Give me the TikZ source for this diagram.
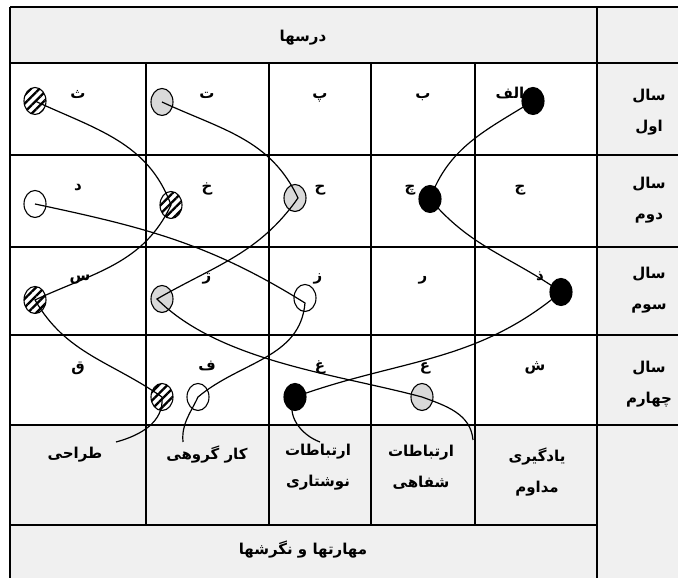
\documentclass[tikz,border=0pt]{standalone}
\usepackage{fontspec}
\usepackage{tikz}
\usetikzlibrary{shapes.geometric,patterns.meta}
\usepackage{xcolor}
\newfontfamily\arabicfont[Script=Arabic]{DejaVu Sans}
\TeXXeTstate=1
\newcommand{\fatext}[1]{{\arabicfont\bfseries\beginR #1\endR}}
\definecolor{cellgray}{HTML}{F0F0F0}
\definecolor{beadgray}{HTML}{D9D9D9}

\begin{document}
\begin{tikzpicture}[x=1pt, y=1pt, font=\fontsize{15}{31}\selectfont,
    gridline/.style={line width=1.8pt},
    link/.style={line width=1.2pt},
    bead/.style={ellipse, draw, line width=1.1pt, minimum width=22pt, minimum height=27pt, inner sep=0pt},
    hatchbead/.style={bead, pattern={Lines[angle=45,distance=6pt,line width=2.3pt]}},
    greybead/.style={bead, fill=beadgray},
    blackbead/.style={bead, fill=black},
    whitebead/.style={bead, fill=white},
    letter/.style={anchor=base}]
    \useasboundingbox (0,0) rectangle (678,578);
    \fill[cellgray] (10,0) rectangle (678,571);
    \fill[white] (10,153) rectangle (597,515);

    % table lines
    \draw[gridline] (10,571) -- (678,571);
    \draw[gridline] (10,571) -- (10,0);
    \draw[gridline] (597,571) -- (597,0);
    \foreach \y in {515,423,331,243,153}
      \draw[gridline] (10,\y) -- (678,\y);
    \draw[gridline] (10,53) -- (597,53);
    \foreach \x in {146,269,371,475}
      \draw[gridline] (\x,515) -- (\x,53);

    \node (title) at (303,540) {\fatext{درسها}};
    \node (skills) at (303,28) {\fatext{مهارتها و نگرشها}};

    \foreach \y/\yr [count=\i] in {466/اول,378/دوم,288/سوم,194/چهارم}
      \node[align=center] (year\i) at (649,\y) {\fatext{سال}\\\fatext{\yr}};

    \foreach \x/\y/\t [count=\i] in {
      78/479/ث, 207/479/ت, 320/479/پ, 423/479/ب, 510/479/الف,
      78/387/د, 207/386/خ, 320/386/ح, 410/386/چ, 520/386/ج,
      80/297/س, 207/297/ژ, 318/297/ز, 423/297/ر, 540/297/ذ,
      78/206/ق, 207/207/ف, 320/207/غ, 425/207/ع, 535/207/ش}
      \node[letter] (letter\i) at (\x,\y) {\fatext{\t}};

    \node (design) at (75,123) {\fatext{طراحی}};
    \node (teamwork) at (207,123) {\fatext{کار گروهی}};
    \node[align=center] (written) at (318,111) {\fatext{ارتباطات}\\\fatext{نوشتاری}};
    \node[align=center] (oral) at (421,111) {\fatext{ارتباطات}\\\fatext{شفاهی}};
    \node[align=center] (lifelong) at (537,106) {\fatext{یادگیری}\\\fatext{مداوم}};

    \node[hatchbead] (tha) at (35,477) {};
    \node[greybead] (te) at (162,476) {};
    \node[blackbead] (alef) at (533,477) {};
    \node[hatchbead] (khe) at (171,373) {};
    \node[whitebead] (dal) at (35,374) {};
    \node[greybead] (he) at (295,380) {};
    \node[blackbead] (che) at (430,379) {};
    \node[hatchbead] (sin) at (35,278) {};
    \node[greybead] (zhe) at (162,279) {};
    \node[whitebead] (ze) at (305,280) {};
    \node[blackbead] (zal) at (561,286) {};
    \node[hatchbead] (fea) at (162,181) {};
    \node[whitebead] (feb) at (198,181) {};
    \node[blackbead] (ghain) at (295,181) {};
    \node[greybead] (ain) at (422,181) {};

    \coordinate (endA) at (116,136);
    \coordinate (endD) at (183,136);
    \coordinate (endC) at (320,136);
    \coordinate (endB) at (473,138);

    \draw[link] (tha.center) to[out=-25,in=110] (khe.center) to[out=-115,in=25] (sin.center)
      to[out=-60,in=145] (fea.center) to[out=-85,in=15] (endA);
    \draw[link] (te.center) to[out=-25,in=115] ([xshift=3pt]he.center) to[out=-125,in=30] ([xshift=-5pt]zhe.center)
      to[out=-45,in=165,looseness=0.8] (ain.center) to[out=-20,in=95] (endB);
    \draw[link] (alef.center) to[out=-148,in=70] (che.center) to[out=-50,in=145] (zal.center)
      to[out=-140,in=20] (ghain.center) to[out=-120,in=160] (endC);
    \draw[link] (dal.center) to[out=-12,in=148] ([yshift=-5pt]ze.center) to[out=-95,in=40] (feb.center)
      to[out=-115,in=95] (endD);
  \end{tikzpicture}
\end{document}
